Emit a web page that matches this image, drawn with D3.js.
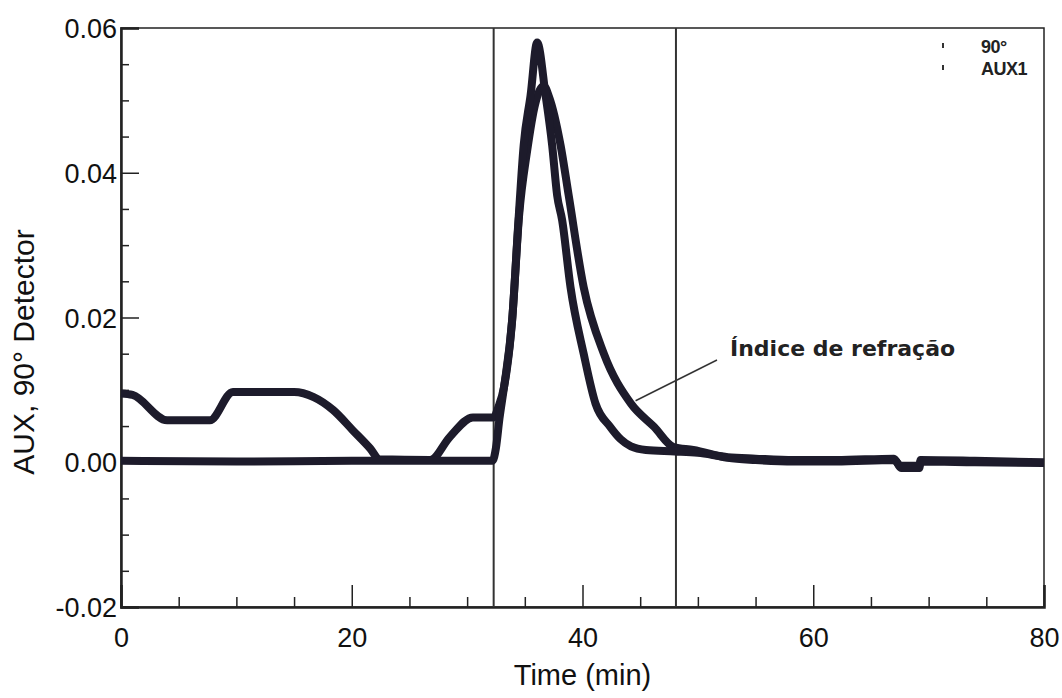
<!DOCTYPE html>
<html>
<head>
<meta charset="utf-8">
<script src="https://cdn.jsdelivr.net/npm/d3@7"></script>
<style>
  body { margin: 0; background: #fff; }
  svg { display: block; font-family: 'Liberation Sans', Arial, sans-serif; }
</style>
</head>
<body>
<svg id="chart" width="1062" height="698"></svg>
<script>
// 90° detector (light scattering)
const lsTime = [0, 10, 20, 30, 32.2, 32.5, 32.8, 33.2, 33.9, 34.45, 34.9, 35.5, 36.07, 36.8, 37.37, 37.8, 38.24, 38.96, 40.1, 41.13, 42.4, 43.3, 44.2, 45.5, 48, 50, 52.6, 55, 58.3, 62, 67, 67.6, 69.2, 69.3, 74, 80]
const lsValue = [0.0002, 0.0001, 0.0002, 0.0002, 0.0002, 0.002, 0.006, 0.0104, 0.0196, 0.0334, 0.0438, 0.0507, 0.058, 0.0507, 0.0438, 0.0369, 0.0334, 0.0242, 0.015, 0.0081, 0.0049, 0.0032, 0.0022, 0.0017, 0.0015, 0.0013, 0.0007, 0.0005, 0.0003, 0.0003, 0.0005, -0.0008, -0.0008, 0.0003, 0.0002, 0.0]

// AUX1 (refractive index)
const riTime = [0, 1, 4, 7.7, 9.7, 15, 16.7, 18.4, 20.1, 21.6, 22.4, 26.8, 28.5, 30.5, 32.3, 32.7, 33.2, 33.9, 34.5, 35.2, 35.9, 36.64, 37.1, 38.1, 38.8, 40.1, 41.85, 44.2, 46.2, 47.9, 49.6, 52.6, 55, 58.3, 62, 67, 67.6, 69.2, 69.3, 74, 80]
const riValue = [0.0095, 0.0093, 0.0058, 0.0058, 0.0097, 0.0097, 0.009, 0.0072, 0.0044, 0.0019, 0.0004, 0.0003, 0.0035, 0.0062, 0.0062, 0.0076, 0.0104, 0.0196, 0.034, 0.043, 0.0495, 0.052, 0.0505, 0.0438, 0.0369, 0.0242, 0.015, 0.0081, 0.0049, 0.0021, 0.0017, 0.0006, 0.0003, 0.0001, 0.0001, 0.0003, -0.0005, -0.0005, 0.0001, 0.0, -0.0001]

// integration limits
const limits = [32.3, 48.1]

const xTicks = [0, 20, 40, 60, 80]
const yTicks = [-0.02, 0, 0.02, 0.04, 0.06]
const legendLabels = ['90°', 'AUX1']

const margin = { top: 28, right: 18, bottom: 91, left: 121 }
const width = 1062, height = 698
const ink = '#1d1b2b'

const svg = d3.select('#chart')

const x = d3.scaleLinear().domain([0, 80]).range([margin.left, width - margin.right])
const y = d3.scaleLinear().domain([-0.02, 0.06]).range([height - margin.bottom, margin.top])

const x0 = x.range()[0], x1 = x.range()[1]
const y0 = y.range()[0], y1 = y.range()[1]

// frame
svg.append('rect')
  .attr('x', x0).attr('y', y1)
  .attr('width', x1 - x0).attr('height', y0 - y1)
  .attr('fill', 'none')
  .attr('stroke', '#222')
  .attr('stroke-width', 1.5)

// minor + major ticks, pointing inward
const xMinor = d3.range(0, 81, 5).filter(d => !xTicks.includes(d))
const yMinor = d3.range(-0.02, 0.0601, 0.005).filter(d => !yTicks.some(t => Math.abs(t - d) < 1e-6))

const xAxis = d3.axisBottom(x).tickValues(xTicks).tickSize(-22).tickPadding(21).tickFormat(d3.format('d'))
const yAxis = d3.axisLeft(y).tickValues(yTicks).tickSize(-18).tickPadding(24).tickFormat(d => d.toFixed(2))

svg.append('g')
  .attr('transform', `translate(0,${y0})`)
  .call(d3.axisBottom(x).tickValues(xMinor).tickSize(-10).tickFormat(''))
  .call(g => g.select('.domain').remove())
svg.append('g')
  .attr('transform', `translate(${x0},0)`)
  .call(d3.axisLeft(y).tickValues(yMinor).tickSize(-8).tickFormat(''))
  .call(g => g.select('.domain').remove())

svg.append('g')
  .attr('class', 'x-axis')
  .attr('transform', `translate(0,${y0})`)
  .call(xAxis)
svg.append('g')
  .attr('class', 'y-axis')
  .attr('transform', `translate(${x0},0)`)
  .call(yAxis)

svg.selectAll('.tick line').attr('stroke', '#222').attr('stroke-width', 1.5)
svg.selectAll('.domain').attr('stroke', '#222').attr('stroke-width', 2.5)
svg.selectAll('.tick text')
  .attr('font-size', 27)
  .attr('fill', '#111')
svg.selectAll('.y-axis .tick text').attr('dy', '0.36em').attr('x', -4)

// vertical limit lines
svg.selectAll('.limit')
  .data(limits).enter()
  .append('line')
    .attr('class', 'limit')
    .attr('x1', d => x(d)).attr('x2', d => x(d))
    .attr('y1', y1).attr('y2', y0)
    .attr('stroke', '#333')
    .attr('stroke-width', 2)

// curves
const line = d3.line()
  .x(d => x(d[0]))
  .y(d => y(d[1]))
  .curve(d3.curveMonotoneX)

const series = [
  d3.zip(riTime, riValue),
  d3.zip(lsTime, lsValue)
]

svg.selectAll('.trace')
  .data(series).enter()
  .append('path')
    .attr('class', 'trace')
    .attr('d', line)
    .attr('fill', 'none')
    .attr('stroke', ink)
    .attr('stroke-width', 8)
    .attr('stroke-linejoin', 'round')

// annotation
const labelX = 730, labelY = 356
svg.append('line')
  .attr('x1', 717).attr('y1', 360)
  .attr('x2', x(44.6)).attr('y2', y(0.0085))
  .attr('stroke', '#333')
  .attr('stroke-width', 1.5)
svg.append('text')
  .attr('x', labelX).attr('y', labelY)
  .attr('font-family', 'DejaVu Sans')
  .attr('font-weight', 'bold')
  .attr('font-size', 22)
  .attr('fill', '#222')
  .text('Índice de refração')

// legend
const legend = svg.append('g')
legend.selectAll('line')
  .data(legendLabels).enter()
  .append('line')
    .attr('x1', 943).attr('x2', 943)
    .attr('y1', (d, i) => 43 + i * 22).attr('y2', (d, i) => 48 + i * 22)
    .attr('stroke', '#333')
    .attr('stroke-width', 2)
legend.selectAll('text')
  .data(legendLabels).enter()
  .append('text')
    .attr('x', 981)
    .attr('y', (d, i) => 53 + i * 22)
    .attr('font-size', 18)
    .attr('font-weight', 'bold')
    .attr('fill', '#222')
    .attr('letter-spacing', -0.5)
    .text(d => d)

// axis titles
svg.append('text')
  .attr('x', (x0 + x1) / 2)
  .attr('y', 685)
  .attr('text-anchor', 'middle')
  .attr('font-size', 29)
  .attr('fill', '#111')
  .text('Time (min)')

svg.append('text')
  .attr('transform', 'translate(34,352) rotate(-90)')
  .attr('text-anchor', 'middle')
  .attr('font-size', 30)
  .attr('fill', '#111')
  .text('AUX, 90° Detector')
</script>
</body>
</html>
